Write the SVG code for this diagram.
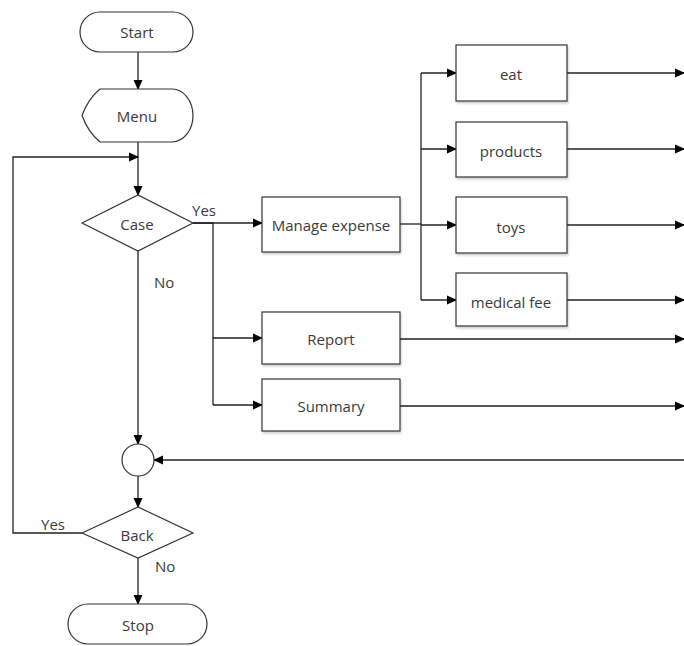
<svg xmlns="http://www.w3.org/2000/svg" width="684" height="646" viewBox="0 0 684 646">
<defs>
<marker id="ah" markerWidth="10" markerHeight="10" refX="9" refY="5" orient="auto" markerUnits="userSpaceOnUse" viewBox="0 0 10 10">
<path d="M0,0.5 L10,5 L0,9.5 Z" fill="#000"/>
</marker>
<filter id="sh" x="-10%" y="-10%" width="130%" height="140%">
<feDropShadow dx="1" dy="2" stdDeviation="1.2" flood-color="#000" flood-opacity="0.18"/>
</filter>
</defs>
<style>
.n{fill:#fff;stroke:#333;stroke-width:1.2}
.b{filter:url(#sh)}
.t{font-family:"Open Sans","Noto Sans",sans-serif;font-size:15px;fill:#3a3a3a;text-anchor:middle;dominant-baseline:central}
.l{font-family:"Open Sans","Noto Sans",sans-serif;font-size:15px;fill:#3a3a3a}
.c{fill:none;stroke:#222;stroke-width:1.3}
.a{marker-end:url(#ah)}
</style>
<rect width="684" height="646" fill="#fff"/>
<g id="connectors">
<path class="c a" d="M138,52 V89"/>
<path class="c a" d="M138,142 V195"/>
<path class="c a" d="M82,533 H13 V157 H138"/>
<path class="c a" d="M193,223 H262"/>
<path class="c" d="M193,223 H213 V405"/>
<path class="c a" d="M213,338 H262"/>
<path class="c a" d="M213,405 H262"/>
<path class="c" d="M400,224 H421"/>
<path class="c" d="M421,73 V300"/>
<path class="c a" d="M421,73 H456"/>
<path class="c a" d="M421,149 H456"/>
<path class="c a" d="M421,225 H456"/>
<path class="c a" d="M421,300 H456"/>
<path class="c a" d="M567,73 H684"/>
<path class="c a" d="M567,149 H684"/>
<path class="c a" d="M567,225 H684"/>
<path class="c a" d="M567,300 H684"/>
<path class="c a" d="M400,339 H684"/>
<path class="c a" d="M400,406 H684"/>
<path class="c a" d="M684,460 H154"/>
<path class="c a" d="M138,251 V444"/>
<path class="c a" d="M138,476 V507"/>
<path class="c a" d="M138,558 V604"/>
<text class="l" x="192" y="216">Yes</text>
<text class="l" x="154" y="288">No</text>
<text class="l" x="41" y="530">Yes</text>
<text class="l" x="155" y="572">No</text>
</g>
<g id="start"><rect class="n" x="80" y="12" width="113" height="40" rx="20"/><text class="t" x="137" y="32">Start</text></g>
<g id="menu"><path class="n" d="M100,89 L172,89 A21,26.5 0 0 1 172,142 L100,142 Q88,132 82,115.5 Q88,99 100,89 Z"/><text class="t" x="137" y="116">Menu</text></g>
<g id="case"><polygon class="n" points="82,223 138,195 193,223 138,251"/><text class="t" x="137" y="224">Case</text></g>
<g id="manage"><rect class="n b" x="262" y="197" width="138" height="55"/><text class="t" x="331" y="225">Manage expense</text></g>
<g id="report"><rect class="n b" x="262" y="312" width="138" height="52"/><text class="t" x="331" y="339">Report</text></g>
<g id="summary"><rect class="n b" x="262" y="379" width="138" height="52"/><text class="t" x="331" y="406">Summary</text></g>
<g id="eat"><rect class="n b" x="456" y="45" width="111" height="56"/><text class="t" x="511" y="74">eat</text></g>
<g id="products"><rect class="n b" x="456" y="122" width="111" height="55"/><text class="t" x="511" y="151">products</text></g>
<g id="toys"><rect class="n b" x="456" y="197" width="111" height="56"/><text class="t" x="511" y="227">toys</text></g>
<g id="medical"><rect class="n b" x="456" y="273" width="111" height="53"/><text class="t" x="511" y="302">medical fee</text></g>
<g id="merge"><circle class="n" cx="138" cy="460" r="16"/></g>
<g id="back"><polygon class="n" points="82,533 138,507 193,533 138,558"/><text class="t" x="137" y="535">Back</text></g>
<g id="stop"><rect class="n" x="68" y="604" width="139" height="40" rx="20"/><text class="t" x="138" y="625">Stop</text></g>
</svg>
